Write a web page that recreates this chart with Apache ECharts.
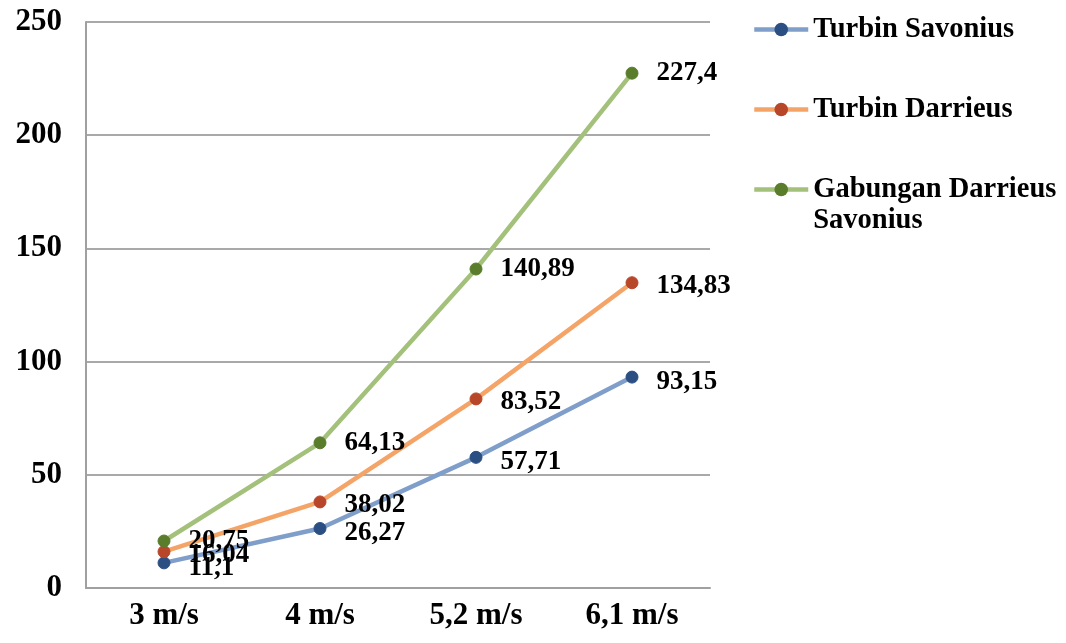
<!DOCTYPE html>
<html>
<head>
<meta charset="utf-8">
<script src="https://cdn.jsdelivr.net/npm/echarts@6/dist/echarts.min.js"></script>
<style>html,body{margin:0;padding:0;background:#fff;}#c{width:1066px;height:643px;}</style>
</head>
<body>
<div id="c"></div>
<script>
const categories = ['3 m/s', '4 m/s', '5,2 m/s', '6,1 m/s'];
const savonius = [11.1, 26.27, 57.71, 93.15];
const darrieus = [16.04, 38.02, 83.52, 134.83];
const gabungan = [20.75, 64.13, 140.89, 227.4];
const seriesNames = ['Turbin Savonius', 'Turbin Darrieus', 'Gabungan Darrieus Savonius'];
const yTicks = { min: 0, max: 250, interval: 50 };

const FONT = 'Liberation Serif';
const chart = echarts.init(document.getElementById('c'), null, { renderer: 'canvas' });

function fmt(v) { return String(v).replace('.', ','); }

function makeSeries(name, data, lineColor, markColor, offY) {
  return {
    name: name,
    type: 'line',
    data: data,
    symbol: 'circle',
    symbolSize: 12,
    lineStyle: { color: lineColor, width: 4.5 },
    itemStyle: { color: markColor, borderColor: markColor },
    label: {
      show: true,
      position: 'right',
      distance: 18,
      offset: [0, offY],
      formatter: p => fmt(p.value),
      fontFamily: FONT,
      fontWeight: 'bold',
      fontSize: 27,
      color: '#000'
    },
    emphasis: { disabled: true },
    animation: false
  };
}

function legendAt(name, top) {
  return {
    data: [name],
    orient: 'vertical',
    left: 747,
    top: top,
    itemWidth: 54,
    itemHeight: 17,
    itemGap: 6,
    lineStyle: { width: 4.5 },
    formatter: n => n === 'Gabungan Darrieus Savonius' ? '\nGabungan Darrieus\nSavonius' : n,
    textStyle: { fontFamily: FONT, fontWeight: 'bold', fontSize: 28.5, color: '#000', lineHeight: 31 },
    selectedMode: false
  };
}

chart.setOption({
  backgroundColor: '#fff',
  animation: false,
  grid: { left: 86, top: 22, width: 624, height: 566, containLabel: false },
  legend: [
    legendAt(seriesNames[0], 9),
    legendAt(seriesNames[1], 89),
    legendAt(seriesNames[2], 138)
  ],
  xAxis: {
    type: 'category',
    data: categories,
    boundaryGap: true,
    axisLine: { lineStyle: { color: '#a0a0a0', width: 2 } },
    axisTick: { show: false },
    axisLabel: { fontFamily: FONT, fontWeight: 'bold', fontSize: 31, color: '#000', margin: 12 }
  },
  yAxis: {
    type: 'value',
    min: yTicks.min,
    max: yTicks.max,
    interval: yTicks.interval,
    axisLine: { show: true, lineStyle: { color: '#a0a0a0', width: 2 } },
    axisTick: { show: false },
    splitLine: { lineStyle: { color: '#8c8c8c', width: 1.5 } },
    axisLabel: { fontFamily: FONT, fontWeight: 'bold', fontSize: 31, color: '#000', margin: 24 }
  },
  series: [
    makeSeries(seriesNames[0], savonius, '#7f9ec9', '#2b4f82', 5),
    makeSeries(seriesNames[1], darrieus, '#f5a468', '#b8472a', 3),
    makeSeries(seriesNames[2], gabungan, '#a3c17a', '#5a7d2c', 0)
  ]
});
</script>
</body>
</html>
